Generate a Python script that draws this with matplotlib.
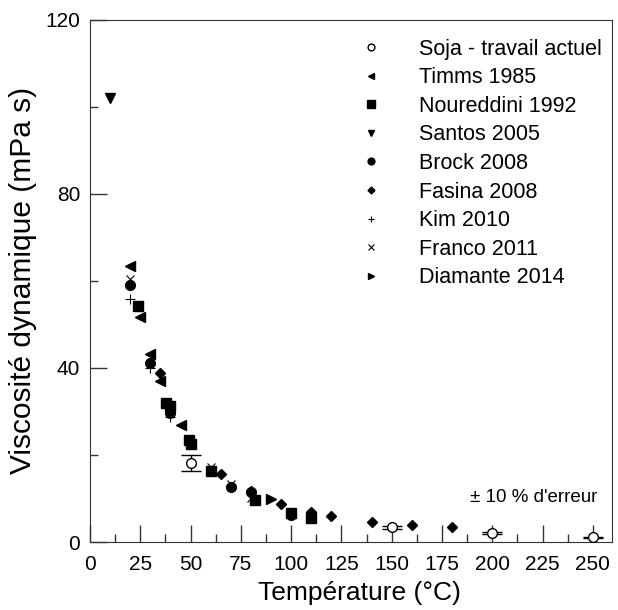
import numpy as np
import matplotlib.pyplot as plt
from matplotlib.ticker import MultipleLocator

plt.rcParams['font.family'] = ['Liberation Sans', 'DejaVu Sans']

# Soja - travail actuel (with 10 % error bars)
soja_t = [50, 150, 200, 250]
soja_v = [18.2, 3.4, 2.1, 1.1]

timms_t = [20, 25, 30, 35, 45]
timms_v = [63.5, 51.6, 43.2, 37.0, 26.9]

noureddini_t = [24, 38, 40, 49, 50, 60, 82, 100, 110]
noureddini_v = [54.3, 32.0, 31.2, 23.5, 22.6, 16.3, 9.6, 6.6, 5.6]

santos_t = [10]
santos_v = [102]

brock_t = [20, 30, 40, 70, 80, 100, 110]
brock_v = [59.0, 41.2, 29.6, 12.7, 11.4, 6.2, 6.5]

fasina_t = [35, 65, 80, 95, 110, 120, 140, 160, 180]
fasina_v = [38.7, 15.7, 11.6, 8.7, 7.0, 6.0, 4.5, 3.9, 3.4]

kim_t = [20, 30, 40]
kim_v = [55.8, 39.9, 28.6]

franco_t = [20, 60, 70, 80]
franco_v = [60.4, 17.2, 13.3, 10.2]

diamante_t = [90]
diamante_v = [9.9]

fig = plt.figure(figsize=(6.18, 6.10), dpi=100)
ax = fig.add_axes([90/618, 68/610, 522/618, 522.5/610])

k = 'black'
ax.errorbar(soja_t, soja_v, yerr=[0.1*v for v in soja_v], fmt='none',
            ecolor=k, elinewidth=1, capsize=7, capthick=1, zorder=3)
ax.plot(soja_t, soja_v, 'o', ms=7, mfc='white', mec=k, mew=1,
        label='Soja - travail actuel', zorder=4)
ax.plot(timms_t, timms_v, '<', color=k, ms=7, label='Timms 1985')
ax.plot(noureddini_t, noureddini_v, 's', color=k, ms=7.5, label='Noureddini 1992')
ax.plot(santos_t, santos_v, 'v', color=k, ms=7, label='Santos 2005')
ax.plot(brock_t, brock_v, 'o', color=k, ms=7, label='Brock 2008')
ax.plot(fasina_t, fasina_v, 'D', color=k, ms=5, label='Fasina 2008')
ax.plot(kim_t, kim_v, '+', color=k, ms=7, mew=0.8, label='Kim 2010')
ax.plot(franco_t, franco_v, 'x', color=k, ms=6, mew=0.8, label='Franco 2011')
ax.plot(diamante_t, diamante_v, '>', color=k, ms=7, label='Diamante 2014')

ax.set_xlim(0, 259.5)
ax.set_ylim(0, 120)
ax.xaxis.set_major_locator(MultipleLocator(25))
ax.xaxis.set_minor_locator(MultipleLocator(12.5))
ax.yaxis.set_major_locator(MultipleLocator(40))
ax.yaxis.set_minor_locator(MultipleLocator(20))
ax.tick_params(which='both', direction='in', top=False, right=False,
               colors='#333333', labelcolor='black', labelsize=15, width=1)
ax.tick_params(which='major', length=12.5)
ax.tick_params(axis='x', which='major', pad=9.5)
ax.tick_params(axis='y', which='major', pad=7)
ax.tick_params(which='minor', length=6)
for s in ax.spines.values():
    s.set_color('#333333')

ax.set_xlabel('Température (°C)', fontsize=19, labelpad=4)
ax.xaxis.set_label_coords(0.517, -0.075)
ax.set_ylabel('Viscosité dynamique (mPa s)', fontsize=21.5, labelpad=6)

ax.text(252, 10.3, '± 10 % d\'erreur', ha='right', va='center', fontsize=13.5)

leg = ax.legend(loc='upper left', bbox_to_anchor=(0.47, 1.0), frameon=False,
                fontsize=15.5, markerscale=0.7, handlelength=1.5,
                handletextpad=1.49, labelspacing=0.35, numpoints=1)

fig.savefig('out.png', dpi=100)
